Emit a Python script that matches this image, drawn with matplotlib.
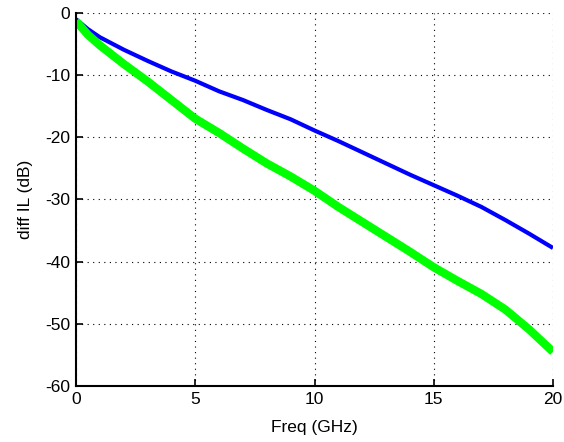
import matplotlib
matplotlib.use("Agg")
import matplotlib.pyplot as plt

plt.rcParams["font.family"] = ["Liberation Sans", "DejaVu Sans"]
plt.rcParams["axes.unicode_minus"] = False

freq_ghz = [0, 0.5, 1, 2, 3, 4, 5, 6, 7, 8, 9, 10, 11, 12, 13, 14, 15, 16, 17, 18, 19, 20]
il_blue = [-1.0, -2.6, -3.9, -5.9, -7.7, -9.4, -10.9, -12.6, -14.0, -15.6, -17.1, -18.9,
           -20.6, -22.4, -24.2, -26.0, -27.7, -29.4, -31.2, -33.3, -35.5, -37.8]
il_green = [-1.3, -3.5, -5.2, -8.2, -11.0, -14.0, -17.0, -19.3, -21.8, -24.2, -26.3, -28.6,
            -31.2, -33.6, -36.0, -38.4, -40.9, -43.1, -45.2, -47.7, -50.9, -54.5]

x_ticks = [0, 5, 10, 15, 20]
y_ticks = [-60, -50, -40, -30, -20, -10, 0]

fig = plt.figure(figsize=(5.64, 4.42), dpi=100)
ax = fig.add_axes([0.1348, 0.1267, 0.8457, 0.8439])

ax.plot(freq_ghz, il_blue, color="#0000FF", linewidth=3.0, solid_capstyle="butt")
ax.plot(freq_ghz, il_green, color="#00FF00", linewidth=6.0, solid_capstyle="butt")

ax.set_xlim(0, 20)
ax.set_ylim(-60, 0)
ax.set_xticks(x_ticks)
ax.set_yticks(y_ticks)

ax.grid(True, color="#000000", linestyle=(0, (1, 4)), linewidth=0.8)
for side in ["top", "right"]:
    ax.spines[side].set_visible(False)
for side in ["left", "bottom"]:
    ax.spines[side].set_linewidth(1.5)

ax.tick_params(direction="in", length=5, width=1.2, labelsize=12.5, pad=4)
ax.set_xlabel("Freq (GHz)", fontsize=12.5, labelpad=10)
ax.set_ylabel("diff IL (dB)", fontsize=12.5, labelpad=9)

fig.savefig("out.png", dpi=100)
